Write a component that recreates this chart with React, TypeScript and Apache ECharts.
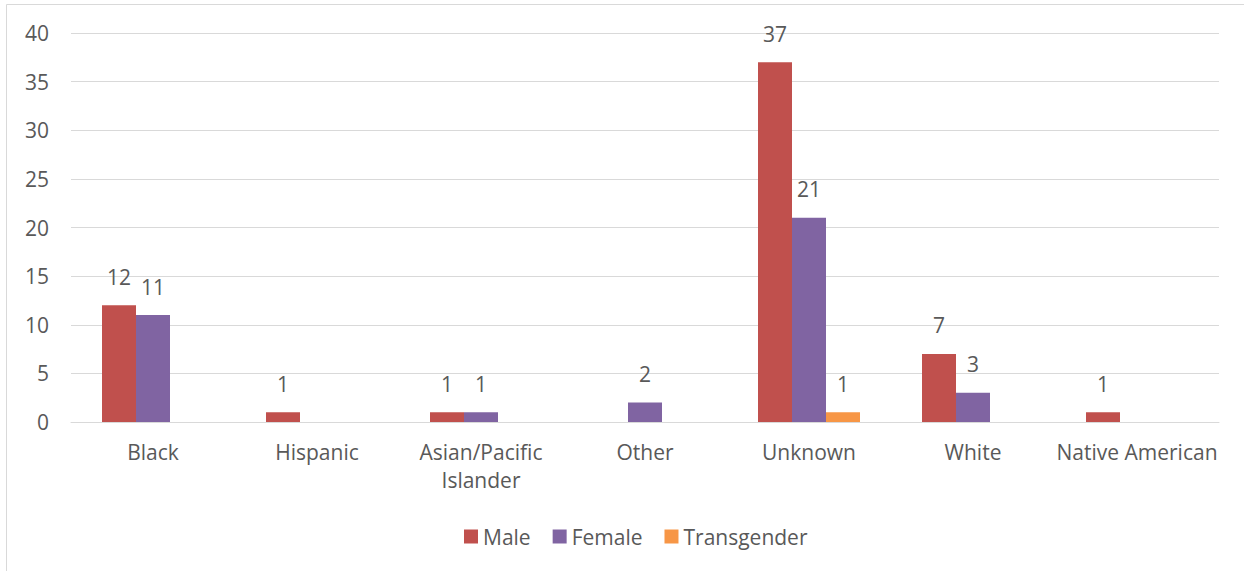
import React, { useEffect, useRef } from "react";
import * as echarts from "echarts";

const categories = [
  "Black",
  "Hispanic",
  "Asian/Pacific\nIslander",
  "Other",
  "Unknown",
  "White",
  "Native American",
];
const maleValues = [12, 1, 1, 0, 37, 7, 1];
const femaleValues = [11, 0, 1, 2, 21, 3, 0];
const transgenderValues = [0, 0, 0, 0, 1, 0, 0];
const seriesNames = ["Male", "Female", "Transgender"];
const seriesColors = ["#C0504D", "#8064A2", "#F79646"];

const FONT = "'Open Sans', 'Noto Sans', sans-serif";
const TEXT = "#595959";
const FS = 21;

export default function App() {
  const ref = useRef<HTMLDivElement>(null);
  useEffect(() => {
    if (!ref.current) return;
    const chart = echarts.init(ref.current, undefined, { renderer: "svg" });
    const values = [maleValues, femaleValues, transgenderValues];
    chart.setOption({
      animation: false,
      textStyle: { fontFamily: FONT },
      graphic: [
        {
          type: "rect",
          shape: { x: 6.5, y: 4.5, width: 1300, height: 700 },
          style: { fill: "none", stroke: "#D9D9D9", lineWidth: 1 },
          silent: true,
        },
      ],
      grid: { left: 71, right: 25, top: 33, bottom: 149, containLabel: false },
      legend: {
        left: 459,
        top: 521,
        itemWidth: 14,
        itemHeight: 14,
        itemGap: 22,
        icon: "rect",
        textStyle: { color: TEXT, fontSize: FS, fontFamily: FONT },
        data: seriesNames,
      },
      xAxis: {
        type: "category",
        data: categories,
        axisLine: { show: true, lineStyle: { color: "#D9D9D9", width: 1 } },
        axisTick: { show: false },
        axisLabel: {
          color: TEXT,
          fontSize: FS,
          fontFamily: FONT,
          margin: 16,
          lineHeight: 28,
          interval: 0,
        },
      },
      yAxis: {
        type: "value",
        min: 0,
        max: 40,
        interval: 5,
        axisLine: { show: false },
        axisTick: { show: false },
        splitLine: { lineStyle: { color: "#D9D9D9", width: 1 } },
        axisLabel: { color: TEXT, fontSize: FS, fontFamily: FONT, margin: 22 },
      },
      series: seriesNames.map((name, i) => ({
        name,
        type: "bar",
        data: values[i],
        barWidth: 34,
        barGap: "0%",
        itemStyle: { color: seriesColors[i] },
        label: {
          show: true,
          position: "top",
          distance: 18,
          color: TEXT,
          fontSize: FS,
          fontFamily: FONT,
          formatter: (p: any) => (p.value === 0 ? "" : String(p.value)),
        },
      })),
    });
    return () => chart.dispose();
  }, []);
  return (
    <div
      ref={ref}
      style={{ position: "fixed", left: 0, top: 0, width: 1244, height: 571, background: "#fff" }}
    />
  );
}
